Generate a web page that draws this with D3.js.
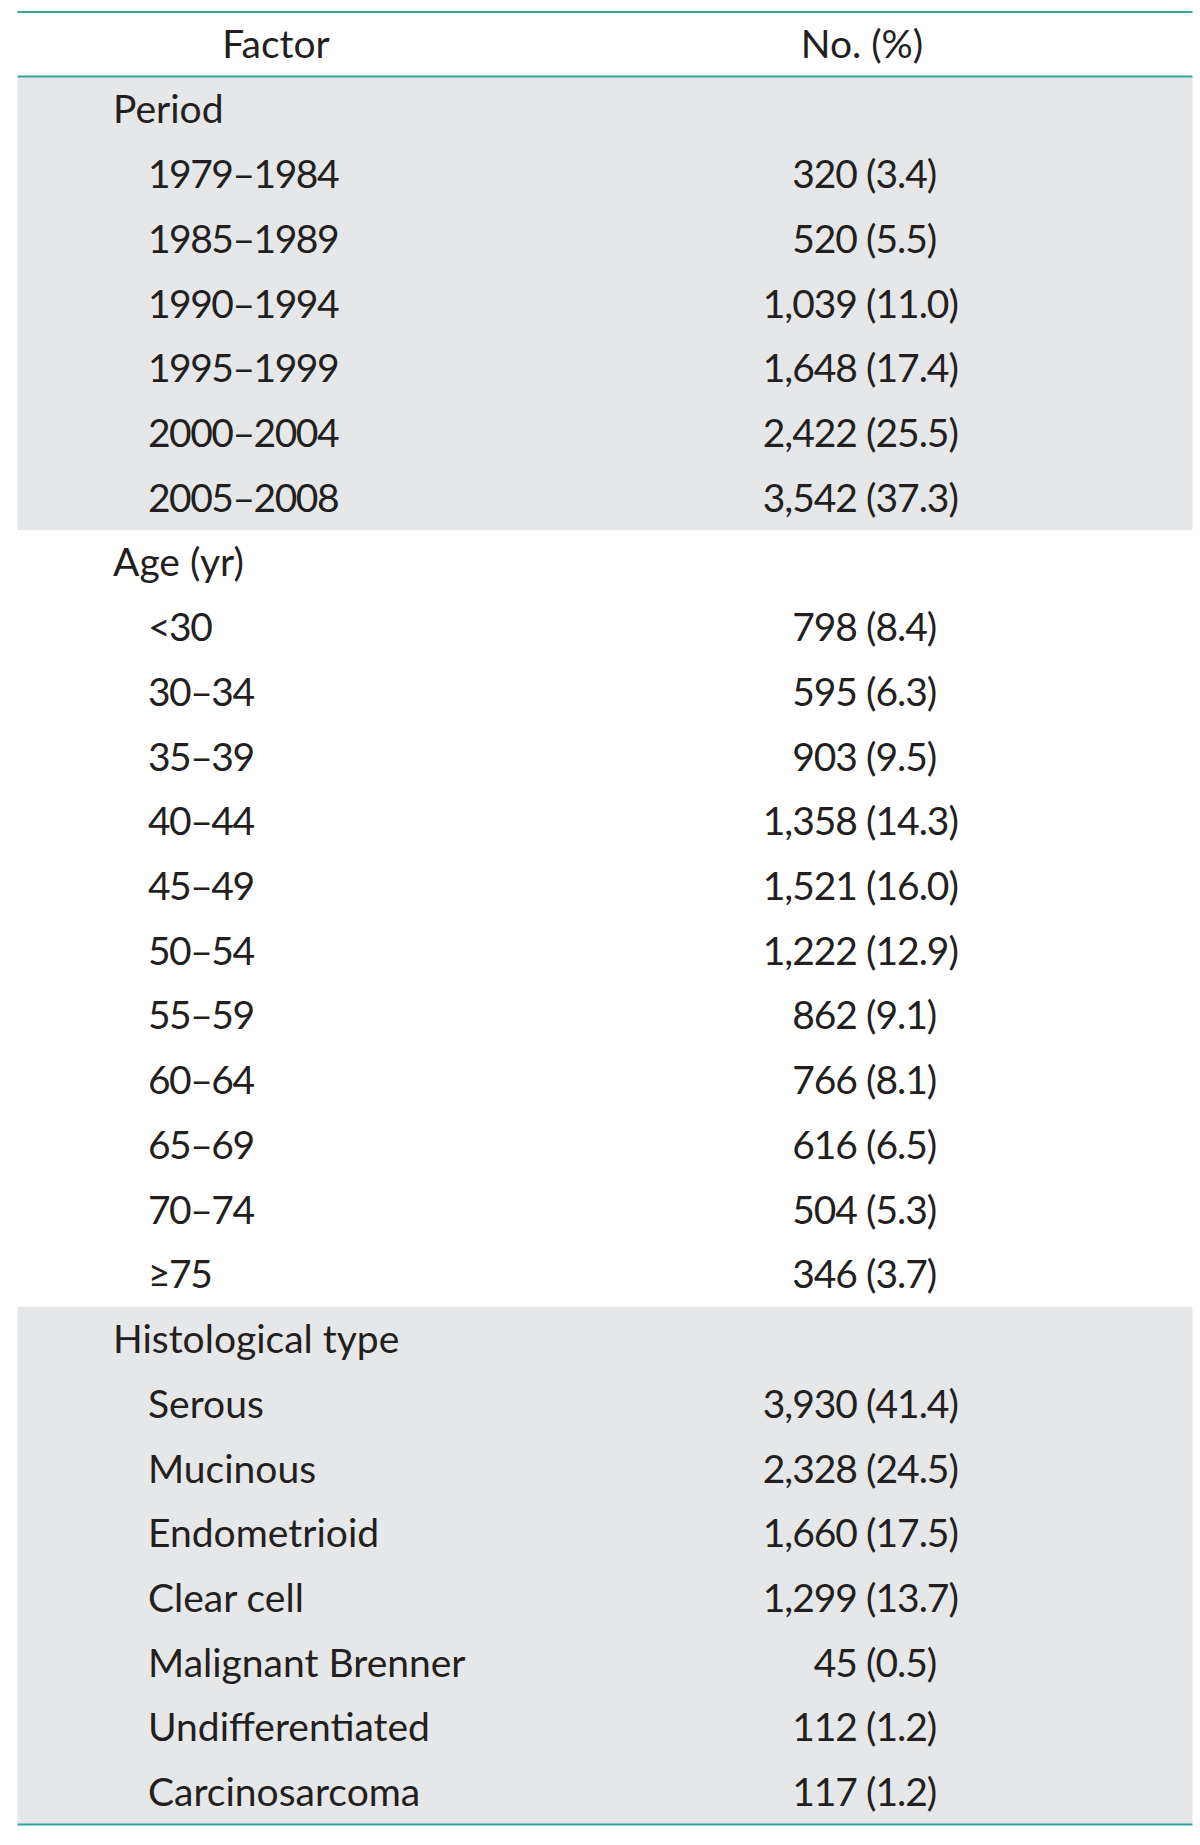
<!DOCTYPE html>
<html>
<head>
    <meta charset="utf-8">
    <script src="https://d3js.org/d3.v7.min.js"></script>
    <style>
        html, body {
            margin: 0;
            padding: 0;
            background: #fff;
            overflow: hidden;
        }

        text {
            font-family: Lato, "Open Sans", sans-serif;
            font-size: 39px;
            fill: #231f20;
            font-variant-numeric: tabular-nums;
        }

        text.num {
            letter-spacing: -1px;
        }

        text.range {
            letter-spacing: -1.5px;
        }
    </style>
</head>
<body>

<svg id="table" width="1200" height="1845"></svg>

<script>
// table content
var headers = ["Factor", "No. (%)"];

var periodLabels = ["1979\u20131984", "1985\u20131989", "1990\u20131994", "1995\u20131999", "2000\u20132004", "2005\u20132008"];
var periodCounts = ["320", "520", "1,039", "1,648", "2,422", "3,542"];
var periodPct = ["3.4", "5.5", "11.0", "17.4", "25.5", "37.3"];

var ageLabels = ["<30", "30\u201334", "35\u201339", "40\u201344", "45\u201349", "50\u201354", "55\u201359", "60\u201364", "65\u201369", "70\u201374", "\u226575"];
var ageCounts = ["798", "595", "903", "1,358", "1,521", "1,222", "862", "766", "616", "504", "346"];
var agePct = ["8.4", "6.3", "9.5", "14.3", "16.0", "12.9", "9.1", "8.1", "6.5", "5.3", "3.7"];

var histLabels = ["Serous", "Mucinous", "Endometrioid", "Clear cell", "Malignant Brenner", "Undifferentiated", "Carcinosarcoma"];
var histCounts = ["3,930", "2,328", "1,660", "1,299", "45", "112", "117"];
var histPct = ["41.4", "24.5", "17.5", "13.7", "0.5", "1.2", "1.2"];

var sections = [
    {title: "Period", labels: periodLabels, counts: periodCounts, pct: periodPct, shaded: true, numeric: true},
    {title: "Age (yr)", labels: ageLabels, counts: ageCounts, pct: agePct, shaded: false, numeric: true},
    {title: "Histological type", labels: histLabels, counts: histCounts, pct: histPct, shaded: true, numeric: false}
];

var svg = d3.select("#table"),
    left = 17.5,
    right = 1192.5,
    topLine = 12,
    headTop = 76.5,
    bottom = 1824.5,
    teal = "#2ea69e",
    shade = "#e6e7e8";

// flatten into rows
var rows = [];
sections.forEach(function(s, si) {
    rows.push({kind: "title", label: s.title, section: si});
    s.labels.forEach(function(l, i) {
        rows.push({kind: "item", label: l, count: s.counts[i], pct: s.pct[i], section: si, numeric: s.numeric});
    });
});

var y = d3.scaleLinear()
    .domain([0, rows.length])
    .range([headTop + 0.5, bottom]);
var rowH = y(1) - y(0);

var xLabelTitle = 113,
    xLabelItem = 148,
    xCount = 857,
    xPct = 866,
    capHalf = 14;

// section shading
var start = 0;
sections.forEach(function(s) {
    var n = s.labels.length + 1;
    if (s.shaded) {
        svg.append("rect")
            .attr("x", left)
            .attr("y", y(start))
            .attr("width", right - left)
            .attr("height", y(start + n) - y(start))
            .attr("fill", shade);
    }
    start += n;
});

// rules
[topLine, headTop, bottom].forEach(function(ly) {
    svg.append("line")
        .attr("x1", left).attr("x2", right)
        .attr("y1", ly).attr("y2", ly)
        .attr("stroke", teal)
        .attr("stroke-width", 2.2);
});

// header
var headMid = (topLine + headTop) / 2 + capHalf;
svg.append("text")
    .attr("x", 276).attr("y", headMid)
    .attr("text-anchor", "middle")
    .text(headers[0]);
svg.append("text")
    .attr("x", 862).attr("y", headMid)
    .attr("text-anchor", "middle")
    .text(headers[1]);

// body rows
var g = svg.append("g");
var row = g.selectAll("g.row")
    .data(rows)
    .enter().append("g")
    .attr("class", "row")
    .attr("transform", function(d, i) { return "translate(0," + (y(i) + rowH / 2 + capHalf) + ")"; });

row.append("text")
    .attr("class", function(d) { return d.numeric ? "range" : null; })
    .attr("x", function(d) { return d.kind === "title" ? xLabelTitle : xLabelItem; })
    .text(function(d) { return d.label; });

row.filter(function(d) { return d.kind === "item"; })
    .append("text")
    .attr("class", "num")
    .attr("x", xCount)
    .attr("text-anchor", "end")
    .text(function(d) { return d.count; });

row.filter(function(d) { return d.kind === "item"; })
    .append("text")
    .attr("class", "num")
    .attr("x", xPct)
    .text(function(d) { return "(" + d.pct + ")"; });
</script>
</body>
</html>
